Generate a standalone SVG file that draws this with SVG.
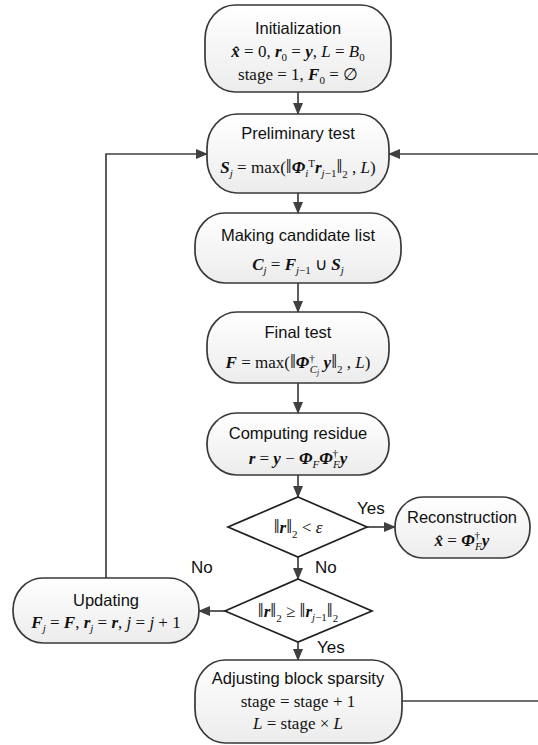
<svg xmlns="http://www.w3.org/2000/svg" width="538" height="745" viewBox="0 0 538 745">
<defs>
<linearGradient id="g" x1="0" y1="0" x2="0" y2="1">
<stop offset="0" stop-color="#ffffff"/>
<stop offset="1" stop-color="#ececec"/>
</linearGradient>
<marker id="ah" markerWidth="12" markerHeight="10" refX="11" refY="5" orient="auto" markerUnits="userSpaceOnUse">
<path d="M0,0 L12,5 L0,10 Z" fill="#404040"/>
</marker>
<style>
.box{fill:url(#g);stroke:#383838;stroke-width:1.7}
.dia{fill:#ffffff;stroke:#202020;stroke-width:1.7}
.ln{fill:none;stroke:#404040;stroke-width:1.7}
.t{font-family:"Liberation Sans",Arial,sans-serif;font-size:16.5px;fill:#111;text-anchor:middle}
.lab{font-family:"Liberation Sans",Arial,sans-serif;font-size:17px;fill:#111}
.m{font-family:"Liberation Serif","Times New Roman",serif;font-size:17px;fill:#111;text-anchor:middle}
.b{font-weight:bold;font-style:italic}
.i{font-style:italic}
.s{font-size:11px}
.n{font-size:21px}
</style>
</defs>
<g id="connectors">
<line class="ln" x1="298" y1="92" x2="298" y2="114" marker-end="url(#ah)"/>
<line class="ln" x1="298" y1="193" x2="298" y2="213" marker-end="url(#ah)"/>
<line class="ln" x1="298" y1="283" x2="298" y2="312" marker-end="url(#ah)"/>
<line class="ln" x1="298" y1="383" x2="298" y2="413" marker-end="url(#ah)"/>
<line class="ln" x1="298" y1="475" x2="298" y2="497" marker-end="url(#ah)"/>
<line class="ln" x1="367" y1="527" x2="395" y2="527" marker-end="url(#ah)"/>
<line class="ln" x1="298" y1="557" x2="298" y2="579" marker-end="url(#ah)"/>
<line class="ln" x1="225" y1="611" x2="199" y2="611" marker-end="url(#ah)"/>
<line class="ln" x1="298" y1="642" x2="298" y2="660" marker-end="url(#ah)"/>
<path class="ln" d="M106,578 V154 H207" marker-end="url(#ah)"/>
<path class="ln" d="M402,701 H540 V154 H389" marker-end="url(#ah)"/>
</g>
<g id="init">
<rect class="box" x="205" y="5" width="186" height="87" rx="30" ry="34"/>
<text class="t" x="298" y="34">Initialization</text>
<text class="m" x="298" y="57"><tspan class="b">x̂</tspan> = 0, <tspan class="b">r</tspan><tspan class="s" dy="4">0</tspan><tspan dy="-4"> = </tspan><tspan class="b">y</tspan>, <tspan class="i">L</tspan> = <tspan class="i">B</tspan><tspan class="s" dy="4">0</tspan></text>
<text class="m" x="298" y="80">stage = 1, <tspan class="b">F</tspan><tspan class="s" dy="4">0</tspan><tspan dy="-4"> = ∅</tspan></text>
</g>
<g id="prelim">
<rect class="box" x="207" y="114" width="182" height="79" rx="30" ry="34"/>
<text class="t" x="298" y="139">Preliminary test</text>
<text class="m" x="298" y="173"><tspan class="b">S</tspan><tspan class="s i" dy="4">j</tspan><tspan dy="-4"> = max(</tspan><tspan class="n">‖</tspan><tspan class="b">Φ</tspan><tspan class="s i" dy="4">i</tspan><tspan class="s" dy="-10">T</tspan><tspan class="b" dy="6">r</tspan><tspan class="s" dy="4"><tspan class="i">j</tspan>−1</tspan><tspan class="n" dy="-4">‖</tspan><tspan class="s" dy="5">2</tspan><tspan dy="-5"> , </tspan><tspan class="i">L</tspan>)</text>
</g>
<g id="candidate">
<rect class="box" x="195" y="213" width="206" height="70" rx="30" ry="32"/>
<text class="t" x="298" y="241">Making candidate list</text>
<text class="m" x="298" y="270"><tspan class="b">C</tspan><tspan class="s i" dy="4">j</tspan><tspan dy="-4"> = </tspan><tspan class="b">F</tspan><tspan class="s" dy="4"><tspan class="i">j</tspan>−1</tspan><tspan dy="-4"> ∪ </tspan><tspan class="b">S</tspan><tspan class="s i" dy="4">j</tspan></text>
</g>
<g id="final">
<rect class="box" x="207" y="312" width="182" height="71" rx="30" ry="32"/>
<text class="t" x="298" y="338">Final test</text>
<text class="m" x="298" y="368"><tspan class="b">F</tspan> = max(<tspan class="n">‖</tspan><tspan class="b">Φ</tspan><tspan class="s" dy="-6">†</tspan><tspan class="s i" dx="-5" dy="11">C</tspan><tspan class="s i" style="font-size:8px" dy="2">j</tspan><tspan class="b" dy="-7"> y</tspan><tspan class="n">‖</tspan><tspan class="s" dy="5">2</tspan><tspan dy="-5"> , </tspan><tspan class="i">L</tspan>)</text>
</g>
<g id="residue">
<rect class="box" x="207" y="413" width="182" height="62" rx="30" ry="30"/>
<text class="t" x="298" y="439">Computing residue</text>
<text class="m" x="298" y="464"><tspan class="b">r</tspan> = <tspan class="b">y</tspan> − <tspan class="b">Φ</tspan><tspan class="s i" dy="4">F</tspan><tspan class="b" dy="-4">Φ</tspan><tspan class="s" dy="-7">†</tspan><tspan class="s i" dx="-5" dy="11">F</tspan><tspan class="b" dy="-4">y</tspan></text>
</g>
<g id="decision1">
<polygon class="dia" points="298,497 367,527 298,557 228,527"/>
<text class="m" x="298" y="533"><tspan class="n">‖</tspan><tspan class="b">r</tspan><tspan class="n">‖</tspan><tspan class="s" dy="5">2</tspan><tspan dy="-5"> &lt; </tspan><tspan class="i">ε</tspan></text>
</g>
<g id="reconstruction">
<rect class="box" x="395" y="497" width="135" height="61" rx="28" ry="30"/>
<text class="t" x="462" y="523">Reconstruction</text>
<text class="m" x="462" y="546"><tspan class="b">x̂</tspan> = <tspan class="b">Φ</tspan><tspan class="s" dy="-7">†</tspan><tspan class="s i" dx="-5" dy="11">F</tspan><tspan class="b" dy="-4">y</tspan></text>
</g>
<g id="decision2">
<polygon class="dia" points="298,579 372,611 298,642 225,611"/>
<text class="m" x="298" y="617"><tspan class="n">‖</tspan><tspan class="b">r</tspan><tspan class="n">‖</tspan><tspan class="s" dy="5">2</tspan><tspan dy="-5"> ≥ </tspan><tspan class="n">‖</tspan><tspan class="b">r</tspan><tspan class="s" dy="4"><tspan class="i">j</tspan>−1</tspan><tspan class="n" dy="-4">‖</tspan><tspan class="s" dy="5">2</tspan></text>
</g>
<g id="updating">
<rect class="box" x="13" y="578" width="186" height="65" rx="30" ry="32"/>
<text class="t" x="106" y="606">Updating</text>
<text class="m" x="106" y="628"><tspan class="b">F</tspan><tspan class="s i" dy="4">j</tspan><tspan dy="-4"> = </tspan><tspan class="b">F</tspan>, <tspan class="b">r</tspan><tspan class="s i" dy="4">j</tspan><tspan dy="-4"> = </tspan><tspan class="b">r</tspan>, <tspan class="i">j</tspan> = <tspan class="i">j</tspan> + 1</text>
</g>
<g id="adjusting">
<rect class="box" x="195" y="660" width="207" height="83" rx="30" ry="34"/>
<text class="t" x="298" y="684">Adjusting block sparsity</text>
<text class="m" x="298" y="707">stage = stage + 1</text>
<text class="m" x="298" y="729"><tspan class="i">L</tspan> = stage × <tspan class="i">L</tspan></text>
</g>
<g id="labels">
<text class="lab" x="357" y="514">Yes</text>
<text class="lab" x="315" y="573">No</text>
<text class="lab" x="191" y="573">No</text>
<text class="lab" x="317" y="653">Yes</text>
</g>
</svg>
